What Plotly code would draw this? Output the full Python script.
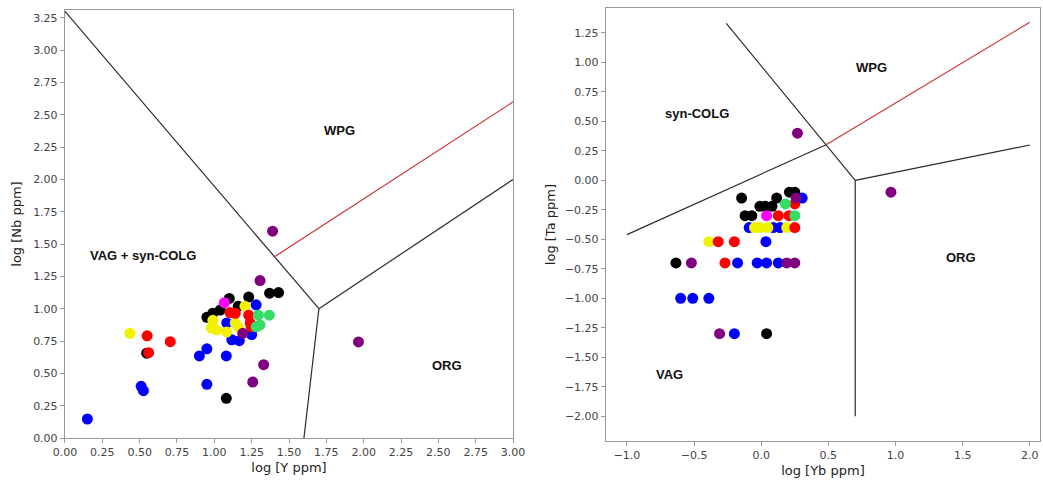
import plotly.graph_objects as go

# ---------------- Left diagram: log Nb vs log Y ----------------
L_blue_x = [0.15, 0.51, 0.525, 0.90, 0.95, 0.95, 1.08, 1.083, 1.117, 1.167, 1.25, 1.28]
L_blue_y = [0.147, 0.40, 0.366, 0.635, 0.69, 0.415, 0.635, 0.89, 0.76, 0.753, 0.80, 1.03]
L_black_x = [0.547, 0.95, 0.99, 1.04, 1.10, 1.16, 1.23, 1.37, 1.43, 1.08]
L_black_y = [0.656, 0.934, 0.965, 0.99, 1.08, 1.02, 1.09, 1.12, 1.125, 0.307]
L_yellow_x = [0.435, 0.99, 0.98, 1.016, 1.14, 1.16, 1.083, 1.205]
L_yellow_y = [0.81, 0.91, 0.85, 0.836, 0.89, 0.86, 0.82, 1.02]
L_red_x = [0.55, 0.56, 0.705, 1.105, 1.14, 1.23, 1.24, 1.246]
L_red_y = [0.79, 0.66, 0.745, 0.97, 0.965, 0.95, 0.89, 0.86]
L_green_x = [1.295, 1.368, 1.306, 1.28]
L_green_y = [0.95, 0.95, 0.875, 0.86]
L_magenta_x = [1.067]
L_magenta_y = [1.047]
L_purple_x = [1.257, 1.33, 1.306, 1.39, 1.965, 1.19]
L_purple_y = [0.433, 0.567, 1.218, 1.60, 0.743, 0.81]

# boundary lines (log units)
L_b1_x = [0.0, 1.7]; L_b1_y = [3.3, 1.0]
L_b2_x = [1.7, 3.0]; L_b2_y = [1.0, 2.0]
L_b3_x = [1.7, 1.6]; L_b3_y = [1.0, 0.0]
L_red_line_x = [1.4, 3.0]; L_red_line_y = [1.4, 2.6]

L_labels = ["WPG", "VAG + syn-COLG", "ORG"]
L_label_x = [1.84, 0.52, 2.56]
L_label_y = [2.38, 1.41, 0.56]

# ---------------- Right diagram: log Ta vs log Yb ----------------
R_black_x = [-0.146, -0.12, -0.07, -0.01, 0.03, 0.08, 0.115, 0.21, 0.25, -0.635, 0.04]
R_black_y = [-0.15, -0.30, -0.30, -0.22, -0.22, -0.22, -0.15, -0.10, -0.10, -0.70, -1.30]
R_blue_x = [0.305, -0.09, 0.09, 0.14, 0.035, -0.176, -0.03, 0.04, 0.127, -0.60, -0.51, -0.39, -0.20]
R_blue_y = [-0.15, -0.40, -0.40, -0.40, -0.52, -0.70, -0.70, -0.70, -0.70, -1.0, -1.0, -1.0, -1.30]
R_yellow_x = [-0.05, -0.01, 0.05, 0.19, -0.39]
R_yellow_y = [-0.40, -0.40, -0.40, -0.40, -0.52]
R_red_x = [0.25, 0.127, 0.206, 0.25, -0.32, -0.20, -0.27]
R_red_y = [-0.20, -0.30, -0.30, -0.40, -0.52, -0.52, -0.70]
R_green_x = [0.18, 0.25]
R_green_y = [-0.20, -0.30]
R_magenta_x = [0.04]
R_magenta_y = [-0.30]
R_purple_x = [0.27, 0.966, -0.52, 0.19, 0.25, -0.31, 0.26]
R_purple_y = [0.40, -0.10, -0.70, -0.70, -0.70, -1.30, -0.15]

R_b1_x = [-1.0, 0.48]; R_b1_y = [-0.46, 0.30]
R_b2_x = [-0.26, 0.48, 0.70]; R_b2_y = [1.33, 0.30, 0.0]
R_b3_x = [0.70, 2.0]; R_b3_y = [0.0, 0.30]
R_b4_x = [0.70, 0.70]; R_b4_y = [0.0, -2.0]
R_red_line_x = [0.48, 2.0]; R_red_line_y = [0.30, 1.34]

R_labels = ["WPG", "syn-COLG", "ORG", "VAG"]
R_label_x = [0.82, -0.48, 1.49, -0.68]
R_label_y = [0.96, 0.57, -0.65, -1.65]

COLORS = {
    "black": "#000000",
    "blue": "#0000ff",
    "yellow": "#f2f200",
    "red": "#ff0000",
    "green": "#33dd66",
    "magenta": "#ff00ff",
    "purple": "#800080",
}

fig = go.Figure()

LINE_COL = "#2a2a2a"

def add_line(x, y, xa, ya, color=LINE_COL, width=1.2):
    fig.add_trace(go.Scatter(x=x, y=y, mode="lines", xaxis=xa, yaxis=ya,
                             line=dict(color=color, width=width),
                             showlegend=False, hoverinfo="skip"))

def add_pts(x, y, color, xa, ya):
    fig.add_trace(go.Scatter(x=x, y=y, mode="markers", xaxis=xa, yaxis=ya,
                             marker=dict(color=color, size=11, line=dict(width=0)),
                             showlegend=False))

# left lines
add_line(L_b1_x, L_b1_y, "x", "y")
add_line(L_b2_x, L_b2_y, "x", "y")
add_line(L_b3_x, L_b3_y, "x", "y")
add_line(L_red_line_x, L_red_line_y, "x", "y", color="#cc3333", width=1.2)

# left points
add_pts(L_black_x, L_black_y, COLORS["black"], "x", "y")
add_pts(L_blue_x, L_blue_y, COLORS["blue"], "x", "y")
add_pts(L_yellow_x, L_yellow_y, COLORS["yellow"], "x", "y")
add_pts(L_red_x, L_red_y, COLORS["red"], "x", "y")
add_pts(L_green_x, L_green_y, COLORS["green"], "x", "y")
add_pts(L_magenta_x, L_magenta_y, COLORS["magenta"], "x", "y")
add_pts(L_purple_x, L_purple_y, COLORS["purple"], "x", "y")

# right lines
add_line(R_b1_x, R_b1_y, "x2", "y2")
add_line(R_b2_x, R_b2_y, "x2", "y2")
add_line(R_b3_x, R_b3_y, "x2", "y2")
add_line(R_b4_x, R_b4_y, "x2", "y2")
add_line(R_red_line_x, R_red_line_y, "x2", "y2", color="#cc3333", width=1.2)

# right points
add_pts(R_black_x, R_black_y, COLORS["black"], "x2", "y2")
add_pts(R_blue_x, R_blue_y, COLORS["blue"], "x2", "y2")
add_pts(R_yellow_x, R_yellow_y, COLORS["yellow"], "x2", "y2")
add_pts(R_red_x, R_red_y, COLORS["red"], "x2", "y2")
add_pts(R_green_x, R_green_y, COLORS["green"], "x2", "y2")
add_pts(R_magenta_x, R_magenta_y, COLORS["magenta"], "x2", "y2")
add_pts(R_purple_x, R_purple_y, COLORS["purple"], "x2", "y2")

annotations = []
for t, x, y in zip(L_labels, L_label_x, L_label_y):
    annotations.append(dict(text="<b>%s</b>" % t, x=x, y=y, xref="x", yref="y",
                            showarrow=False, font=dict(family="Liberation Sans", size=13, color="#111")))
for t, x, y in zip(R_labels, R_label_x, R_label_y):
    annotations.append(dict(text="<b>%s</b>" % t, x=x, y=y, xref="x2", yref="y2",
                            showarrow=False, font=dict(family="Liberation Sans", size=13, color="#111")))

axis_common = dict(showgrid=False, zeroline=False, showline=True, linecolor="#999999",
                   linewidth=1.3, mirror=True, ticks="outside", ticklen=4, tickcolor="#999999",
                   automargin=False,
                   tickfont=dict(family="DejaVu Sans", size=11, color="#444444"))

fig.update_layout(
    width=1043, height=480,
    margin=dict(l=0, r=0, t=0, b=0),
    paper_bgcolor="white", plot_bgcolor="white",
    annotations=annotations,
    xaxis=dict(axis_common, domain=[0.0623, 0.4919], range=[0, 3.0],
               tick0=0, dtick=0.25, tickformat=".2f", anchor="y",
               title=dict(text="log [Y ppm]", standoff=4,
                          font=dict(family="DejaVu Sans", size=13, color="#222"))),
    yaxis=dict(axis_common, domain=[0.0875, 0.979], range=[0, 3.31],
               tick0=0, dtick=0.25, tickformat=".2f", anchor="x",
               title=dict(text="log [Nb ppm]", standoff=8,
                          font=dict(family="DejaVu Sans", size=13, color="#222"))),
    xaxis2=dict(axis_common, domain=[0.581, 0.997], range=[-1.156, 2.075],
                tick0=-1, dtick=0.5, tickformat=".1f", anchor="y2",
                title=dict(text="log [Yb ppm]", standoff=4,
                           font=dict(family="DejaVu Sans", size=13, color="#222"))),
    yaxis2=dict(axis_common, domain=[0.08125, 0.983], range=[-2.21, 1.46],
                tick0=-2, dtick=0.25, tickformat=".2f", anchor="x2",
                title=dict(text="log [Ta ppm]", standoff=6,
                           font=dict(family="DejaVu Sans", size=13, color="#222"))),
)

fig.write_html("out.html")
